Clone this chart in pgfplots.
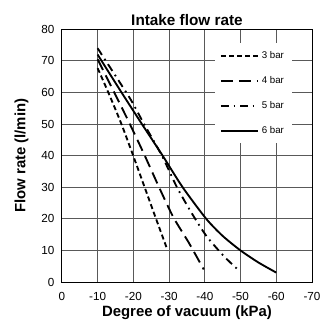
\documentclass[border=0pt]{standalone}
\usepackage{pgfplots}
\pgfplotsset{compat=1.18}
\usepackage{fontspec}
\setmainfont{Liberation Sans}
\begin{document}
\begin{tikzpicture}
\begin{axis}[
    scale only axis,
    width=188pt, height=190pt,
    x dir=reverse,
    xmin=-70, xmax=0, ymin=0, ymax=80,
    xtick={0,-10,...,-70}, ytick={0,10,...,80},
    grid=major,
    major grid style={black!65, line width=0.6pt},
    axis line style={black, line width=0.7pt},
    major tick length=0pt,
    tick label style={font=\fontsize{8.8}{9}\selectfont},
    /pgf/number format/assume math mode=true,
    xticklabel style={yshift=-4pt},
    yticklabel style={xshift=-2pt},
    title={\bfseries Intake flow rate},
    title style={font=\fontsize{11.5}{12}\selectfont, yshift=-7pt},
    xlabel={\bfseries Degree of vacuum (kPa)},
    ylabel={\bfseries Flow rate (l/min)},
    label style={font=\fontsize{11.2}{12}\selectfont},
    xlabel style={yshift=3pt},
    ylabel style={yshift=3pt},
    legend style={at={(rel axis cs:0.61,0.945)}, anchor=north west,
        draw=none, fill=white, font=\fontsize{7.3}{8}\selectfont,
        row sep=8pt, inner xsep=4pt, inner ysep=4pt},
    legend cell align=left,
    legend image code/.code={\draw[#1] (0pt,0pt) -- (28pt,0pt);},
]
\addplot[black, line width=1.4pt, smooth, tension=0.4, dash pattern=on 3.8pt off 2.3pt] coordinates {
    (-10,67.7) (-13,60) (-16.5,50.5) (-19.8,40.5) (-23,30.5) (-26.2,20.5) (-29.5,10.3)};
\addlegendentry{3 bar}
\addplot[black, line width=1.4pt, smooth, tension=0.4, dash pattern=on 9pt off 4.5pt] coordinates {
    (-10,70.5) (-14,61.5) (-18.6,51) (-23,40.5) (-27.2,30) (-31.2,20.5) (-35.5,12.5) (-39.7,4)};
\addlegendentry{4 bar}
\addplot[black, line width=1.4pt, smooth, tension=0.4, dash pattern=on 6pt off 3.5pt on 1.3pt off 3.5pt] coordinates {
    (-10,74) (-15,65.3) (-19.4,57.5) (-23,50) (-28,40) (-32.2,30) (-36.5,21.5) (-40.5,14.5) (-45.5,8) (-49.5,3.7)};
\addlegendentry{5 bar}
\addplot[black, line width=1.4pt, smooth, tension=0.4] coordinates {
    (-10,72) (-16.7,60) (-22.4,50) (-28.2,40) (-33.8,30) (-40.4,20) (-45,14.6) (-50,10) (-55,6.2) (-60,3)};
\addlegendentry{6 bar}
\end{axis}
\pgfresetboundingbox
\path ([shift={(-46.5pt,-30pt)}]current axis.south west) rectangle ([shift={(6.75pt,22pt)}]current axis.north east);
\end{tikzpicture}
\end{document}
